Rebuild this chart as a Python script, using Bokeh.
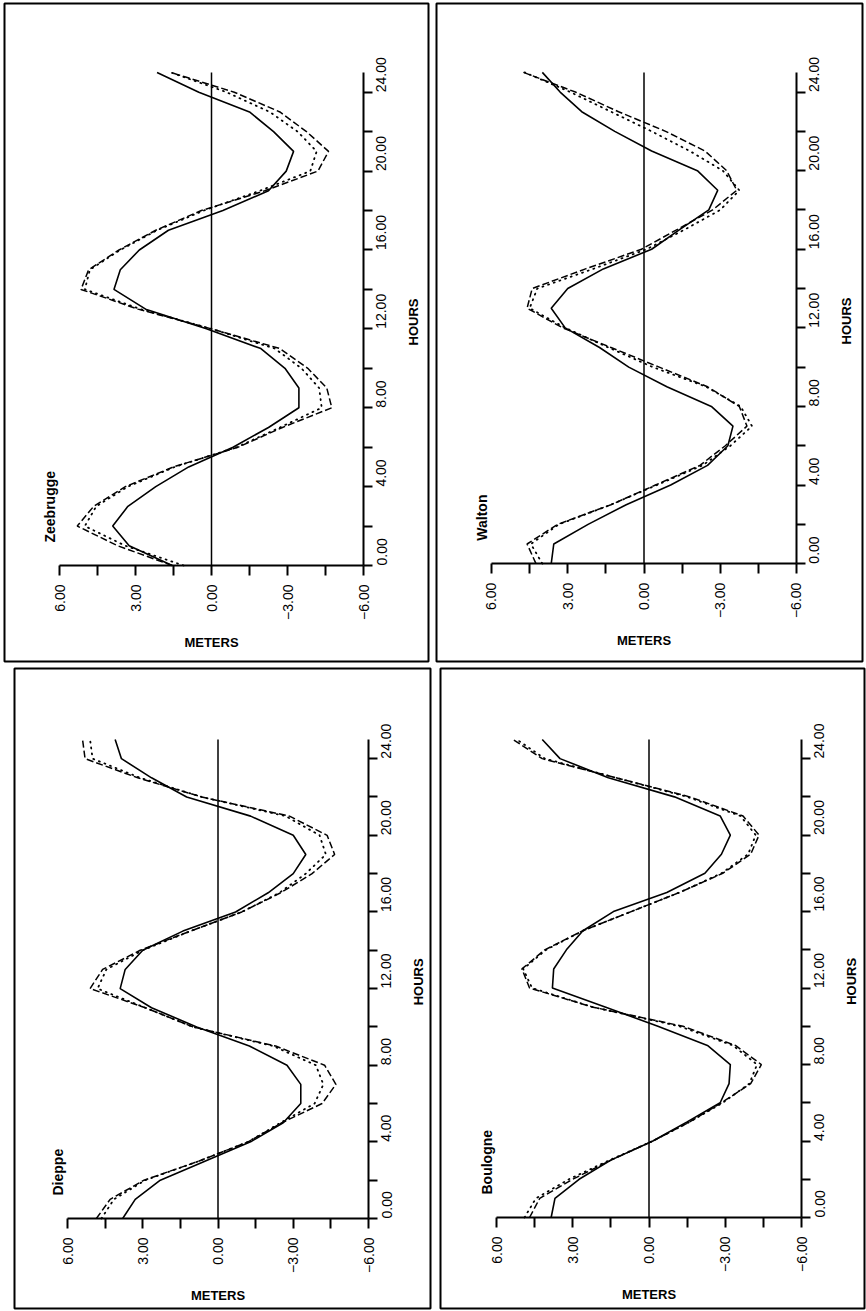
from math import pi
from bokeh.plotting import figure
from bokeh.models import Range1d, LinearAxis, FixedTicker, CustomJSTickFormatter, Label
from bokeh.layouts import column, row
from bokeh.embed import file_html
from bokeh.resources import INLINE

# ---------------- data ----------------
HOURS = list(range(26))

DIEPPE_SOLID = [3.8, 3.3, 2.3, 0.5, -1.3, -2.6, -3.3, -3.3, -2.75, -1.25, 0.85, 2.65, 3.9, 3.7,
                3.0, 1.4, -0.7, -2.0, -3.0, -3.5, -3.0, -1.3, 1.25, 2.65, 3.85, 4.1]
DIEPPE_DOTTED = [4.65, 4.15, 2.9, 0.75, -1.2, -2.5, -3.85, -4.2, -3.9, -2.2, 1.0, 2.9, 4.8, 4.45,
                 3.0, 1.1, -0.95, -2.45, -3.5, -4.3, -4.05, -2.7, 0.65, 3.1, 5.0, 5.1]
DIEPPE_DASHED = [4.85, 4.3, 2.95, 0.75, -1.2, -2.55, -4.15, -4.7, -4.25, -2.3, 1.0, 2.9, 5.1, 4.6,
                 3.1, 1.1, -0.95, -2.5, -3.75, -4.65, -4.35, -2.85, 0.65, 3.2, 5.3, 5.4]

ZEEBRUGGE_SOLID = [1.55, 3.25, 3.9, 3.3, 2.2, 0.9, -0.85, -2.25, -3.45, -3.45, -2.9, -1.95, 0.2, 2.6,
                   3.85, 3.6, 2.85, 1.7, -0.45, -2.25, -2.95, -3.24, -2.45, -1.5, 0.5, 2.15]
ZEEBRUGGE_DOTTED = [1.1, 3.4, 5.0, 4.55, 3.3, 1.45, -1.0, -2.7, -4.35, -4.25, -3.55, -2.5, 0.0, 2.8,
                    5.0, 4.8, 3.6, 2.15, 0.3, -1.9, -3.9, -4.15, -3.4, -2.3, -0.6, 1.6]
ZEEBRUGGE_DASHED = [1.55, 3.7, 5.3, 4.65, 3.4, 1.5, -1.05, -2.8, -4.75, -4.55, -3.8, -2.7, 0.0, 2.9,
                    5.15, 4.85, 3.65, 2.2, 0.4, -2.1, -4.2, -4.62, -3.75, -2.7, -0.9, 1.6]

BOULOGNE_SOLID = [3.85, 3.7, 2.75, 1.5, -0.15, -1.5, -2.8, -3.15, -3.2, -2.3, -0.35, 1.7, 3.8, 3.75,
                  3.25, 2.6, 1.4, -0.7, -2.2, -2.85, -3.2, -2.8, -1.0, 1.6, 3.5, 4.2]
BOULOGNE_DOTTED = [4.9, 4.45, 3.15, 1.55, -0.15, -1.6, -2.9, -3.95, -4.25, -3.3, -1.2, 2.2, 4.6, 4.95,
                   4.05, 2.6, 0.7, -1.2, -2.85, -3.9, -4.2, -3.6, -1.5, 1.3, 4.1, 5.2]
BOULOGNE_DASHED = [4.7, 4.3, 3.0, 1.5, -0.15, -1.6, -2.85, -4.0, -4.42, -3.4, -1.34, 2.2, 4.7, 5.0,
                   4.1, 2.6, 0.7, -1.2, -2.9, -4.0, -4.33, -3.7, -1.6, 1.3, 4.2, 5.35]

WALTON_SOLID = [3.65, 3.55, 2.2, 0.7, -1.05, -2.5, -3.3, -3.5, -2.65, -0.9, 0.6, 1.75, 3.1, 3.65,
                3.0, 1.6, -0.3, -1.4, -2.55, -2.9, -2.1, -0.3, 1.15, 2.45, 3.3, 4.0]
WALTON_DOTTED = [4.0, 4.45, 3.35, 1.3, -0.5, -2.3, -3.4, -4.25, -3.8, -2.45, -0.35, 1.4, 3.1, 4.5,
                 4.2, 2.0, -0.1, -1.6, -3.0, -3.75, -3.1, -1.8, -0.3, 1.3, 2.9, 4.7]
WALTON_DASHED = [4.25, 4.6, 3.4, 1.3, -0.45, -2.2, -3.2, -4.05, -3.75, -2.5, -0.6, 1.3, 3.2, 4.6,
                 4.4, 2.3, 0.1, -1.3, -2.7, -3.65, -3.25, -2.4, -0.85, 1.0, 2.7, 4.74]

METER_TICKS = [-6, -3, 0, 3, 6]
METER_MINOR_TICKS = [-4.5, -1.5, 1.5, 4.5]
HOUR_TICKS = [0, 4, 8, 12, 16, 20, 24]
HOUR_MINOR_TICKS = [2, 6, 10, 14, 18, 22]
METER_LIMITS = [-6, 6]
HOUR_LIMITS = [0, 25]
ZERO_LINE = [0, 0]

# ---------------- styling / layout ----------------
FONT = "Liberation Sans"
FIG_W = 433
TICK_FMT = "return (tick < 0 ? '\\u2212' : '') + Math.abs(tick).toFixed(2);"


def style_axis(ax):
    ax.axis_line_color = "black"
    ax.axis_line_width = 2
    ax.major_tick_line_color = "black"
    ax.major_tick_line_width = 2
    ax.minor_tick_line_color = "black"
    ax.minor_tick_line_width = 2
    ax.major_tick_in = 0
    ax.minor_tick_in = 0
    ax.major_label_orientation = pi / 2
    ax.major_label_text_font = FONT
    ax.major_label_text_font_size = "14px"
    ax.major_label_text_color = "black"


def make_panel(name, solid, dotted, dashed, fig_h, top, frame_h, y0, y25, left, frame_w, x6, xm6):
    ppm = (xm6 - x6) / 12.0
    pph = (y0 - y25) / 25.0
    xr = Range1d(6 + x6 / ppm, 6 - (frame_w - x6) / ppm)
    yr = Range1d(-(frame_h - y0) / pph, y0 / pph)
    p = figure(width=FIG_W, height=fig_h, x_range=xr, y_range=yr,
               x_axis_type=None, y_axis_type=None,
               output_backend="svg", toolbar_location=None,
               min_border_left=left, min_border_right=FIG_W - left - frame_w,
               min_border_top=top, min_border_bottom=fig_h - top - frame_h)
    p.outline_line_color = "black"
    p.outline_line_width = 2
    p.background_fill_color = "white"
    p.border_fill_color = "white"
    p.grid.visible = False

    xa = LinearAxis(fixed_location=0, bounds=(METER_LIMITS[0], METER_LIMITS[1]),
                    ticker=FixedTicker(ticks=METER_TICKS, minor_ticks=METER_MINOR_TICKS),
                    formatter=CustomJSTickFormatter(code=TICK_FMT))
    style_axis(xa)
    xa.major_tick_out = 10
    xa.minor_tick_out = 10
    xa.major_label_standoff = 9
    p.add_layout(xa, "below")

    ya = LinearAxis(fixed_location=METER_LIMITS[0], bounds=(HOUR_LIMITS[0], HOUR_LIMITS[1]),
                    ticker=FixedTicker(ticks=HOUR_TICKS, minor_ticks=HOUR_MINOR_TICKS),
                    formatter=CustomJSTickFormatter(code=TICK_FMT))
    style_axis(ya)
    ya.major_tick_out = 9
    ya.minor_tick_out = 9
    ya.major_label_standoff = 9
    p.add_layout(ya, "right")

    p.line(ZERO_LINE, HOUR_LIMITS, line_color="black", line_width=1.5)
    p.line(solid, HOURS, line_color="black", line_width=1.6)
    p.line(dotted, HOURS, line_color="black", line_width=1.8, line_dash="1 5", line_cap="round")
    p.line(dashed, HOURS, line_color="black", line_width=1.5, line_dash="7 3")

    p.add_layout(Label(x=6 + 10 / ppm, y=23 / pph, text=name, angle=pi / 2,
                       text_align="left", text_baseline="middle", text_font=FONT,
                       text_font_style="bold", text_font_size="14px", text_color="black"))
    p.add_layout(Label(x=-6 - 50 / ppm, y=12.35, text="HOURS", angle=pi / 2,
                       text_align="center", text_baseline="middle", text_font=FONT,
                       text_font_style="bold", text_font_size="13px", text_color="black"))
    p.add_layout(Label(x=0, y=-77 / pph, text="METERS",
                       text_align="center", text_baseline="middle", text_font=FONT,
                       text_font_style="bold", text_font_size="13px", text_color="black"))
    return p


TOP_H, BOT_H = 663, 648
p_zee = make_panel("Zeebrugge", ZEEBRUGGE_SOLID, ZEEBRUGGE_DOTTED, ZEEBRUGGE_DASHED,
                   TOP_H, 3, 658, 562, 69, 4, 424, 55, 359)
p_wal = make_panel("Walton", WALTON_SOLID, WALTON_DOTTED, WALTON_DASHED,
                   TOP_H, 2, 659, 561, 69, 3, 426, 55, 360)
p_die = make_panel("Dieppe", DIEPPE_SOLID, DIEPPE_DOTTED, DIEPPE_DASHED,
                   BOT_H, 5, 640, 550, 71, 14, 416, 53, 354)
p_bou = make_panel("Boulogne", BOULOGNE_SOLID, BOULOGNE_DOTTED, BOULOGNE_DASHED,
                   BOT_H, 5, 640, 549, 71, 7, 424, 56, 361)

layout = column(row(p_zee, p_wal, spacing=0), row(p_die, p_bou, spacing=0), spacing=0)

open("out.html", "w").write(file_html(layout, INLINE, title="Tides"))
